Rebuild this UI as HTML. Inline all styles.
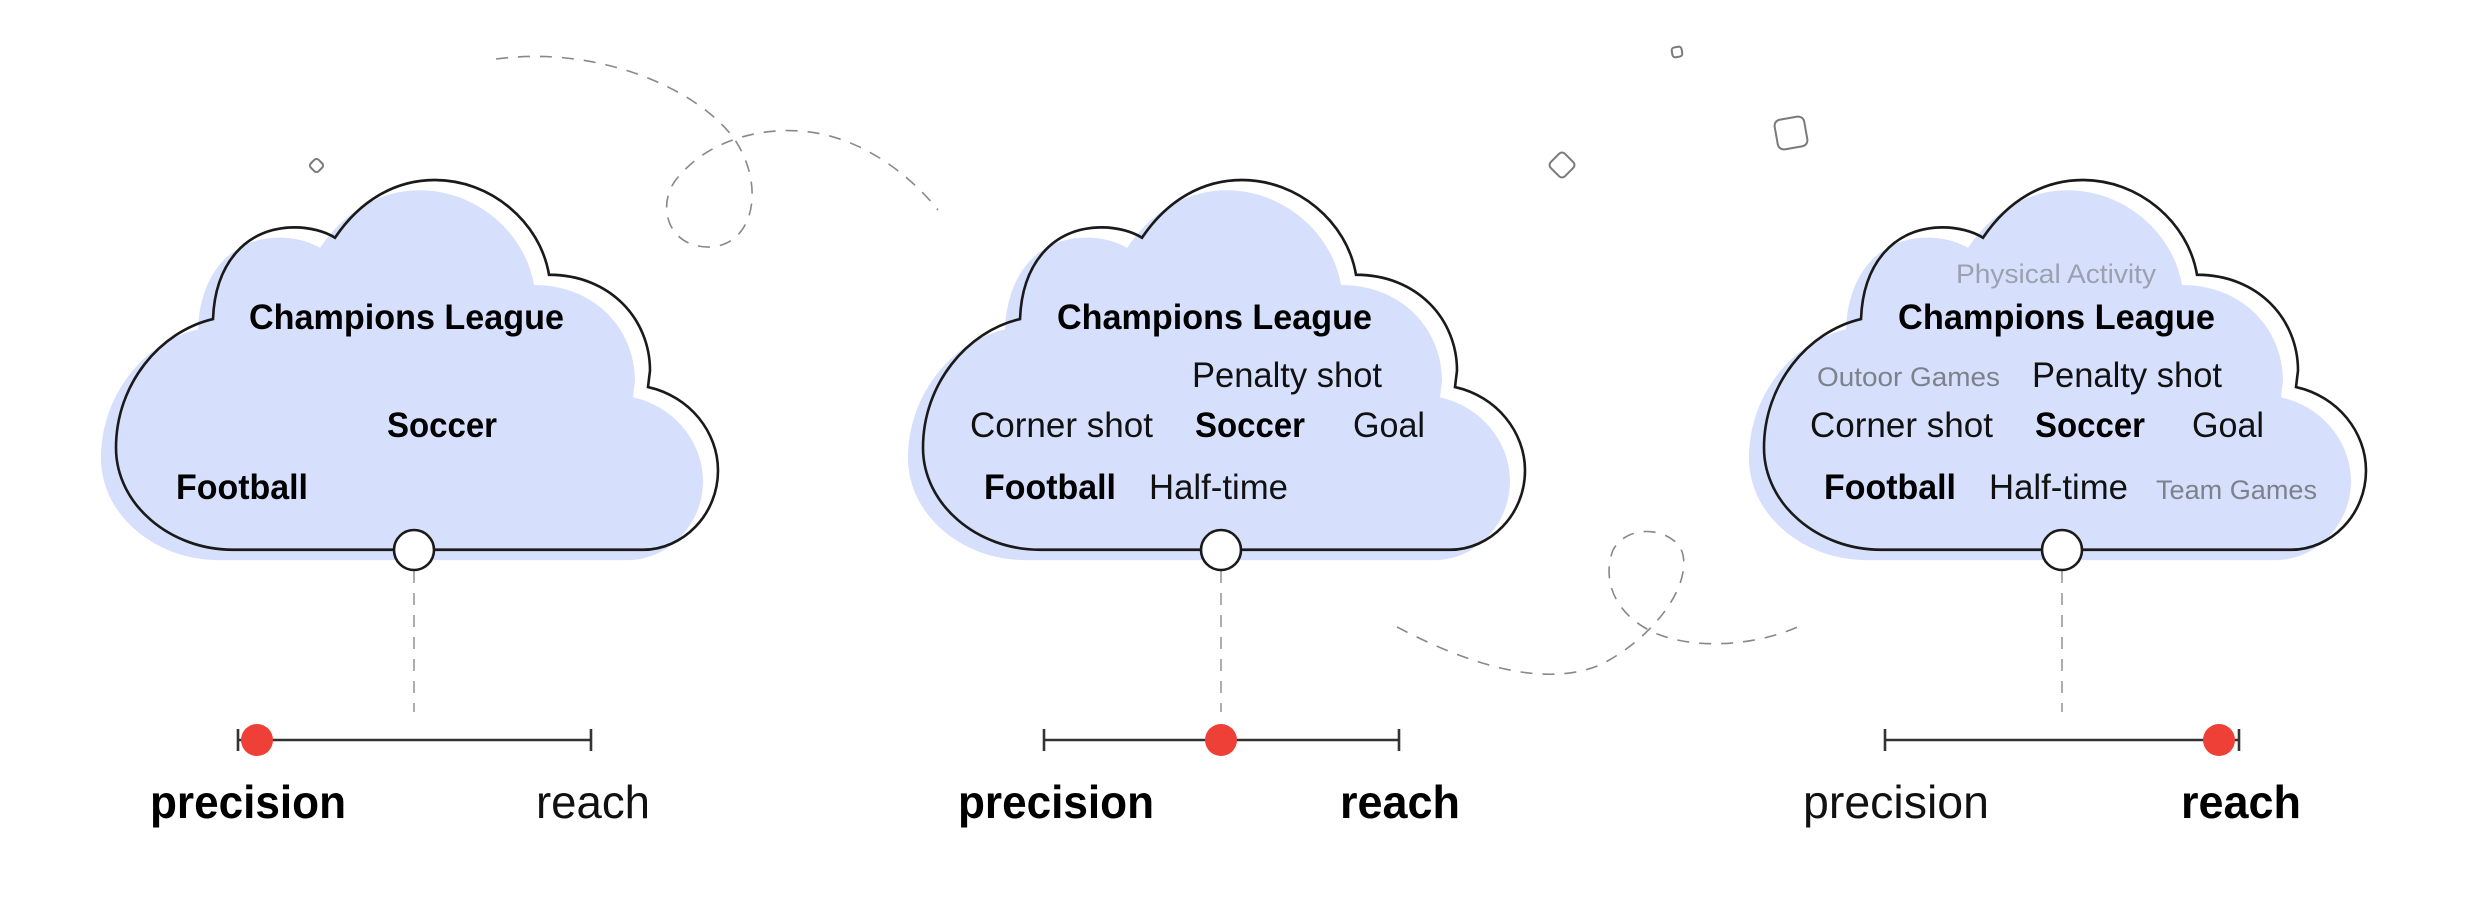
<!DOCTYPE html>
<html><head><meta charset="utf-8"><style>
html,body{margin:0;padding:0;background:#fff;}
svg{display:block;}
text{font-family:"Liberation Sans",sans-serif;}
.b{font-weight:bold;font-size:35px;fill:#000;}
.r{font-size:35px;fill:#111;}
.g{font-size:27px;fill:#7d818c;}
.pb{font-weight:bold;font-size:46px;fill:#000;}
.pr{font-size:46px;fill:#111;}
</style></head><body>
<svg width="2481" height="901" viewBox="0 0 2481 901" xmlns="http://www.w3.org/2000/svg">
<defs>
<path id="cl" d="M233,539 C170,539 116,495 116,440 C116,378 160,327 213,315 C215,262 245,226 295,226 C310,226 325,230 335,236 C360,200 395,180 435,180 C490,180 540,220 549,272 C610,272 650,315 650,365 L648,381 C690,390 718,425 718,462 C718,505 683,539 643,539 Z"/>
<g id="cloud">
<g transform="matrix(1,0,0,1.03,0,-5.4)">
<use href="#cl" transform="translate(-15,10)" fill="#d6e0fd"/>
<use href="#cl" fill="none" stroke="#1a1a1a" stroke-width="2.6"/>
</g>
<line x1="414" y1="571" x2="414" y2="712" stroke="#999" stroke-width="1.6" stroke-dasharray="12 10"/>
<circle cx="414" cy="550" r="20" fill="#fff" stroke="#1a1a1a" stroke-width="2.6"/>
</g>
</defs>

<!-- decorations -->
<g fill="none" stroke="#888" stroke-width="1.6" stroke-dasharray="12 10">
<path d="M496,59 C600,45 700,90 735,140 C765,185 755,245 710,247 C665,248 655,200 680,175 C710,140 760,128 800,131 C860,135 910,175 938,210"/>
<path d="M1397,627 C1460,660 1540,690 1600,665 C1650,640 1690,590 1683,555 C1678,530 1630,520 1613,550 C1600,585 1620,620 1660,635 C1700,650 1760,645 1802,625"/>
</g>
<g fill="none" stroke="#7a7a7a" stroke-width="2">
<rect x="311" y="160" width="11" height="11" rx="3" transform="rotate(45 316.5 165.5)"/>
<rect x="1672" y="47" width="10" height="10" rx="3" transform="rotate(-10 1677 52)"/>
<rect x="1552" y="155" width="20" height="20" rx="4" transform="rotate(45 1562 165)"/>
<rect x="1776" y="118" width="30" height="30" rx="6" transform="rotate(-10 1791 133)"/>
</g>

<!-- cloud 1 -->
<use href="#cloud"/>
<text class="b" x="249" y="329" textLength="315" lengthAdjust="spacingAndGlyphs">Champions League</text>
<text class="b" x="387" y="437" textLength="110" lengthAdjust="spacingAndGlyphs">Soccer</text>
<text class="b" x="176" y="499" textLength="132" lengthAdjust="spacingAndGlyphs">Football</text>
<g stroke="#333" stroke-width="2.6"><line x1="238" y1="740" x2="591" y2="740"/><line x1="238" y1="729" x2="238" y2="751"/><line x1="591" y1="729" x2="591" y2="751"/></g>
<circle cx="257" cy="740" r="16" fill="#ee4036"/>
<text class="pb" x="150" y="818" textLength="196" lengthAdjust="spacingAndGlyphs">precision</text>
<text class="pr" x="536" y="818" textLength="114" lengthAdjust="spacingAndGlyphs">reach</text>

<!-- cloud 2 -->
<use href="#cloud" transform="translate(807,0)"/>
<text class="b" x="1057" y="329" textLength="315" lengthAdjust="spacingAndGlyphs">Champions League</text>
<text class="r" x="1192" y="387" textLength="190" lengthAdjust="spacingAndGlyphs">Penalty shot</text>
<text class="r" x="970" y="437" textLength="183" lengthAdjust="spacingAndGlyphs">Corner shot</text>
<text class="b" x="1195" y="437" textLength="110" lengthAdjust="spacingAndGlyphs">Soccer</text>
<text class="r" x="1353" y="437" textLength="72" lengthAdjust="spacingAndGlyphs">Goal</text>
<text class="b" x="984" y="499" textLength="132" lengthAdjust="spacingAndGlyphs">Football</text>
<text class="r" x="1149" y="499" textLength="139" lengthAdjust="spacingAndGlyphs">Half-time</text>
<g stroke="#333" stroke-width="2.6"><line x1="1044" y1="740" x2="1399" y2="740"/><line x1="1044" y1="729" x2="1044" y2="751"/><line x1="1399" y1="729" x2="1399" y2="751"/></g>
<circle cx="1221" cy="740" r="16" fill="#ee4036"/>
<text class="pb" x="958" y="818" textLength="196" lengthAdjust="spacingAndGlyphs">precision</text>
<text class="pb" x="1340" y="818" textLength="120" lengthAdjust="spacingAndGlyphs">reach</text>

<!-- cloud 3 -->
<use href="#cloud" transform="translate(1648,0)"/>
<text class="g" x="1956" y="283" textLength="200" lengthAdjust="spacingAndGlyphs" style="fill:#9ba1b0">Physical Activity</text>
<text class="b" x="1898" y="329" textLength="317" lengthAdjust="spacingAndGlyphs">Champions League</text>
<text class="g" x="1817" y="386" textLength="183" lengthAdjust="spacingAndGlyphs">Outoor Games</text>
<text class="r" x="2032" y="387" textLength="190" lengthAdjust="spacingAndGlyphs">Penalty shot</text>
<text class="r" x="1810" y="437" textLength="183" lengthAdjust="spacingAndGlyphs">Corner shot</text>
<text class="b" x="2035" y="437" textLength="110" lengthAdjust="spacingAndGlyphs">Soccer</text>
<text class="r" x="2192" y="437" textLength="72" lengthAdjust="spacingAndGlyphs">Goal</text>
<text class="b" x="1824" y="499" textLength="132" lengthAdjust="spacingAndGlyphs">Football</text>
<text class="r" x="1989" y="499" textLength="139" lengthAdjust="spacingAndGlyphs">Half-time</text>
<text class="g" x="2156" y="499" textLength="161" lengthAdjust="spacingAndGlyphs">Team Games</text>
<g stroke="#333" stroke-width="2.6"><line x1="1885" y1="740" x2="2239" y2="740"/><line x1="1885" y1="729" x2="1885" y2="751"/><line x1="2239" y1="729" x2="2239" y2="751"/></g>
<circle cx="2219" cy="740" r="16" fill="#ee4036"/>
<text class="pr" x="1803" y="818" textLength="186" lengthAdjust="spacingAndGlyphs">precision</text>
<text class="pb" x="2181" y="818" textLength="120" lengthAdjust="spacingAndGlyphs">reach</text>
</svg>
</body></html>
